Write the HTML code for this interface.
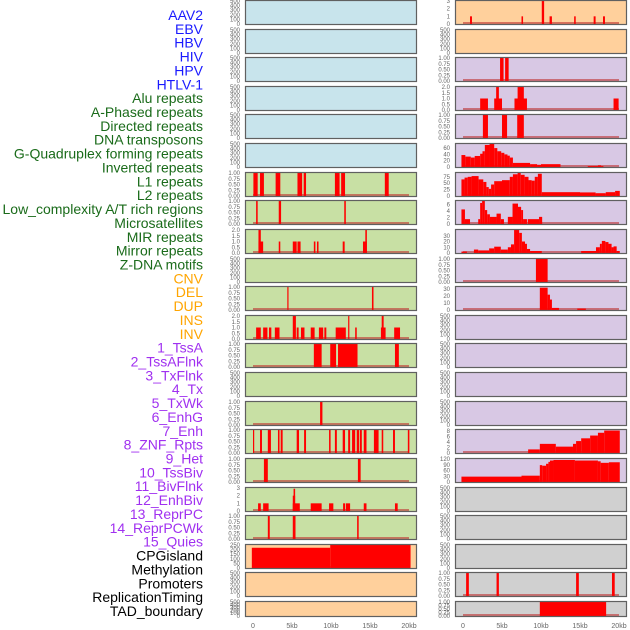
<!DOCTYPE html>
<html><head><meta charset="utf-8">
<style>
html,body{margin:0;padding:0;background:#fff;}
svg{display:block;font-family:"Liberation Sans",sans-serif;}
</style></head>
<body>
<svg id="chart" width="630" height="630" viewBox="0 0 630 630" xmlns="http://www.w3.org/2000/svg"></svg>
<script>
// ---------- data ----------
const trackLabels = ["AAV2","EBV","HBV","HIV","HPV","HTLV-1","Alu repeats","A-Phased repeats","Directed repeats","DNA transposons","G-Quadruplex forming repeats","Inverted repeats","L1 repeats","L2 repeats","Low_complexity A/T rich regions","Microsatellites","MIR repeats","Mirror repeats","Z-DNA motifs","CNV","DEL","DUP","INS","INV","1_TssA","2_TssAFlnk","3_TxFlnk","4_Tx","5_TxWk","6_EnhG","7_Enh","8_ZNF_Rpts","9_Het","10_TssBiv","11_BivFlnk","12_EnhBiv","13_ReprPC","14_ReprPCWk","15_Quies","CPGisland","Methylation","Promoters","ReplicationTiming","TAD_boundary"];
const labelColors = ["#1a1aff","#1a1aff","#1a1aff","#1a1aff","#1a1aff","#1a1aff","#1a6b1a","#1a6b1a","#1a6b1a","#1a6b1a","#1a6b1a","#1a6b1a","#1a6b1a","#1a6b1a","#1a6b1a","#1a6b1a","#1a6b1a","#1a6b1a","#1a6b1a","#ffa500","#ffa500","#ffa500","#ffa500","#ffa500","#a030f0","#a030f0","#a030f0","#a030f0","#a030f0","#a030f0","#a030f0","#a030f0","#a030f0","#a030f0","#a030f0","#a030f0","#a030f0","#a030f0","#a030f0","#000","#000","#000","#000","#000"];
const xTickValues = [0,5,10,15,20];
const xTickLabels = ["0","5kb","10kb","15kb","20kb"];
const ticksEmpty = [0,100,200,300,400,500];
const ticksUnit = [0,0.25,0.5,0.75,1.0];
const ticksTwo = [0,0.5,1.0,1.5,2.0];

// left column panels: background, y max, ticks, bars [startKb, endKb, value]
const leftBg = ["#c8e4ec","#c8e4ec","#c8e4ec","#c8e4ec","#c8e4ec","#c8e4ec","#c8e0a4","#c8e0a4","#c8e0a4","#c8e0a4","#c8e0a4","#c8e0a4","#c8e0a4","#c8e0a4","#c8e0a4","#c8e0a4","#c8e0a4","#c8e0a4","#c8e0a4","#ffd09c","#ffd09c","#ffd09c"];
const leftMax = [500,500,500,500,500,500,1,1,2,500,1,2,1,500,1,1,1,3,1,250,500,500];
const leftTicks = [ticksEmpty,ticksEmpty,ticksEmpty,ticksEmpty,ticksEmpty,ticksEmpty,ticksUnit,ticksUnit,ticksTwo,ticksEmpty,ticksUnit,ticksTwo,ticksUnit,ticksEmpty,ticksUnit,ticksUnit,ticksUnit,[0,1,2,3],ticksUnit,[0,50,100,150,200,250],ticksEmpty,ticksEmpty];
const leftBars = [
 [],[],[],[],[],[],
 [[0.05,0.6,1],[0.9,1.4,1],[2.9,3.5,1],[5.7,6.3,1],[6.5,6.8,1],[10.5,11.1,1],[11.3,11.8,1],[16.9,17.4,1]],
 [[0.4,0.6,1],[3.3,3.6,1],[11.7,11.9,1]],
 [[0.7,1.3,1],[0.7,1.0,2],[3.3,3.5,1],[5.1,5.6,1],[5.7,6.1,1],[7.8,8.0,1],[8.2,8.4,1],[11.5,11.75,1],[14.1,14.6,1],[14.4,14.6,2]],
 [],
 [[4.4,4.55,1],[15.25,15.45,1]],
 [[0.4,1.0,1],[1.3,1.85,1],[2.05,2.35,1],[2.8,3.4,1],[5.1,5.5,2],[5.6,5.85,1],[6.15,6.6,1],[7.4,7.9,1],[8.45,9.0,1],[9.15,9.4,1],[10.6,11.9,1],[12.2,12.35,2],[13.1,13.3,1],[16.4,17.0,1],[16.5,16.75,2],[18.1,18.85,1]],
 [[7.8,8.8,1],[9.9,10.65,1],[10.9,13.4,1],[18.2,18.7,1]],
 [],
 [[8.6,8.9,1]],
 [[0,0.1,1],[0.9,1.15,1],[1.9,2.3,1],[3.2,3.4,1],[3.55,3.8,1],[5.6,5.9,1],[6.55,6.8,1],[9.75,9.95,1],[10.5,10.75,1],[11.5,11.8,1],[12.2,12.45,1],[12.7,13.1,1],[13.3,13.6,1],[13.7,13.95,1],[14.2,14.55,1],[15.5,16.1,1],[16.5,16.7,1],[17.95,18.2,1],[19.85,20.05,1]],
 [[1.4,1.9,1],[13.45,13.8,1]],
 [[0.65,1.0,1],[1.3,2.0,1],[5.1,6.0,1],[5.1,5.4,2],[5.2,5.4,2.9],[7.4,8.8,1],[9.75,10.3,1],[11.55,11.8,1],[11.9,12.45,1],[14.2,14.55,1],[18.2,18.55,1]],
 [[1.9,2.15,1],[5.1,5.45,1],[13.35,13.55,1]],
 [[-0.15,9.9,220],[9.9,20.2,250]],
 [],[]
];

// right column panels
const rightBg = ["#ffd09c","#ffd09c","#d8c8e4","#d8c8e4","#d8c8e4","#d8c8e4","#d8c8e4","#d8c8e4","#d8c8e4","#d8c8e4","#d8c8e4","#d8c8e4","#d8c8e4","#d8c8e4","#d8c8e4","#d8c8e4","#d8c8e4","#d0d0d0","#d0d0d0","#d0d0d0","#d0d0d0","#d0d0d0"];
const rightMax = [3,500,1,2,1,73,90,7.1,40,1,33,500,500,500,500,8.3,120,500,500,500,1,1];
const rightTicks = [[0,1,2,3],ticksEmpty,ticksUnit,ticksTwo,ticksUnit,[0,20,40,60],[0,25,50,75],[0,2,4,6],[0,10,20,30],ticksUnit,[0,10,20,30],ticksEmpty,ticksEmpty,ticksEmpty,ticksEmpty,[0,2,4,6,8],[0,30,60,90,120],ticksEmpty,ticksEmpty,ticksEmpty,ticksUnit,ticksUnit];
const rightBars = [
 [[0.9,1.15,1],[7.5,7.7,1],[10.1,10.4,3],[11.1,11.4,1],[14.25,14.45,1],[16.75,17.0,1],[17.95,18.2,1]],
 [],
 [[4.75,5.2,1],[5.4,5.85,1]],
 [[2.2,3.2,1],[4.0,5.0,1],[4.25,4.6,2],[6.6,8.2,1],[7.0,7.8,2],[19.3,19.95,1]],
 [[2.55,3.2,1],[5.0,5.65,1],[6.95,7.8,1]],
 [[-0.2,0.3,38],[0.3,1.0,33],[1.0,1.5,30],[1.5,2.2,35],[2.2,2.5,42],[2.5,2.8,50],[2.8,3.4,70],[3.4,4.0,73],[4.0,4.4,60],[4.4,4.9,50],[4.9,5.3,45],[5.3,5.7,40],[5.7,6.0,36],[6.0,6.4,30],[6.4,8.6,13],[8.6,9.5,9],[9.5,10.0,7],[10.0,12.5,9],[16.0,17.3,3],[17.3,17.7,5],[17.7,18.0,3]],
 [[-0.2,0.2,65],[0.2,0.6,72],[0.6,1.1,75],[1.1,2.0,78],[2.0,2.6,65],[2.6,3.0,55],[3.0,3.3,35],[3.3,3.6,28],[3.6,4.0,45],[4.0,5.0,58],[5.0,6.0,62],[6.0,6.4,75],[6.4,7.0,85],[7.0,7.4,90],[7.4,7.9,83],[7.9,8.4,75],[8.4,8.8,62],[8.8,9.2,60],[9.2,9.6,75],[9.6,10.1,87],[10.1,15.0,15],[15.0,17.0,14],[17.0,18.3,11],[18.3,19.5,15],[19.5,20.1,20]],
 [[-0.2,0.25,4.5],[0.25,0.9,1.5],[1.95,2.2,1.5],[2.2,2.45,6.5],[2.45,2.8,7.3],[2.8,3.1,4.3],[3.1,3.45,3],[3.45,4.3,2.2],[4.3,4.85,3.2],[4.85,5.25,1.5],[5.75,6.35,2.2],[6.35,7.05,6.3],[7.05,7.45,5.3],[7.45,7.7,4.3],[7.7,8.2,1.5],[8.3,9.75,1.5],[9.75,10.15,2.2]],
 [[-0.2,0.5,2.5],[1.4,1.95,6],[1.95,3.35,4.5],[3.35,4.0,8],[4.0,4.85,11],[4.85,5.75,6],[5.75,6.15,10],[6.15,6.55,15],[6.55,7.2,40],[7.2,7.55,35],[7.55,7.95,20],[7.95,8.2,16],[8.2,8.6,7],[8.6,10.1,3.5],[15.15,17.05,3.5],[17.05,17.55,10],[17.55,17.8,16],[17.8,18.25,21],[18.25,18.65,19],[18.65,19.05,16],[19.05,19.3,10],[19.3,19.7,11.5],[19.7,20.1,3.5]],
 [[9.35,10.85,1]],
 [[9.85,10.85,32],[10.85,11.15,22],[11.15,11.4,15],[11.4,12.3,3],[14.65,15.75,2]],
 [],[],[],[],
 [[8.35,9.85,1.3],[9.85,11.9,3.3],[11.9,14.1,2.3],[14.1,14.5,3.3],[14.5,15.15,4.3],[15.15,16.3,5.3],[16.3,17.3,6.3],[17.3,18.1,7.3],[18.1,20.1,8.1]],
 [[-0.2,7.5,28],[7.5,9.85,33],[9.85,10.15,88],[10.15,10.65,85],[10.65,10.95,95],[10.95,11.15,105],[11.15,11.6,112],[11.6,14.35,115],[14.35,17.3,112],[17.3,17.65,108],[17.65,18.7,100],[18.7,20.1,103]],
 [],[],[],
 [[0.4,0.75,1],[4.3,4.6,1],[14.5,14.85,1],[19.1,19.45,1]],
 [[9.85,18.35,1]]
];

// ---------- drawing ----------
const NS = "http://www.w3.org/2000/svg";
const svg = document.getElementById("chart");
function mk(tag, attrs, parent){
  const e = document.createElementNS(NS, tag);
  for (const k in attrs) e.setAttribute(k, attrs[k]);
  (parent||svg).appendChild(e);
  return e;
}
function rowTop(i){ return Math.round(i*28.62); }
function rowH(i){ return i===21 ? 16 : 25; }

// labels
trackLabels.forEach((t,i)=>{
  const e = mk("text",{x:203,y:(20+i*13.86).toFixed(1),"text-anchor":"end","font-size":"14",fill:labelColors[i]});
  e.textContent = t;
  
  
});

function drawColumn(col, bgs, maxs, ticks, bars, px0, pxLeft, pxRight, tickX){
  const xs = kb => px0 + kb*7.8;
  for (let i=0;i<22;i++){
    const t = rowTop(i), h = rowH(i);
    const g = mk("g",{});
    
    
    const bg = mk("rect",{x:pxLeft,y:t,width:pxRight-pxLeft,height:h,fill:bgs[i]},g);
    
    
    const max = maxs[i];
    const ys = v => t + h - 1 - (v/max)*(h-2);
    // ticks
    ticks[i].forEach(v=>{
      const lab = mk("text",{x:tickX,y:(ys(v)+2).toFixed(1),"text-anchor":"end","font-size":"6",fill:"#666"},g);
      lab.textContent = (max===1 && ticks[i]===ticksUnit) ? v.toFixed(2) : (ticks[i]===ticksTwo ? v.toFixed(1) : String(v));
      
      
    });
    if (bars[i].length){
      const base = mk("rect",{x:xs(0),y:t+h-3,width:xs(20)-xs(0),height:2,fill:"#c03030",opacity:0.6},g);
      
      
    }
    bars[i].forEach(b=>{
      const x0 = Math.max(pxLeft, xs(b[0])), x1 = Math.min(pxRight, xs(b[1]));
      const y = Math.max(t, ys(b[2]));
      const r = mk("rect",{x:x0.toFixed(2),y:y.toFixed(2),width:Math.max(1.2,x1-x0).toFixed(2),height:(t+h-y).toFixed(2),fill:"#ff0000"},g);
      
      
    });
    const br = mk("rect",{x:pxLeft+0.5,y:t+0.5,width:pxRight-pxLeft-1,height:h-1,fill:"none",stroke:"#606060","stroke-width":1.2},g);
    
    
  }
  xTickValues.forEach((v,k)=>{
    const e = mk("text",{x:xs(v),y:628,"text-anchor":"middle","font-size":"7",fill:"#666"});
    e.textContent = xTickLabels[k];
    
    
  });
}
drawColumn("left", leftBg, leftMax, leftTicks, leftBars, 253, 245, 417, 240);
drawColumn("right", rightBg, rightMax, rightTicks, rightBars, 463, 455, 627, 450);
</script>
</body></html>
